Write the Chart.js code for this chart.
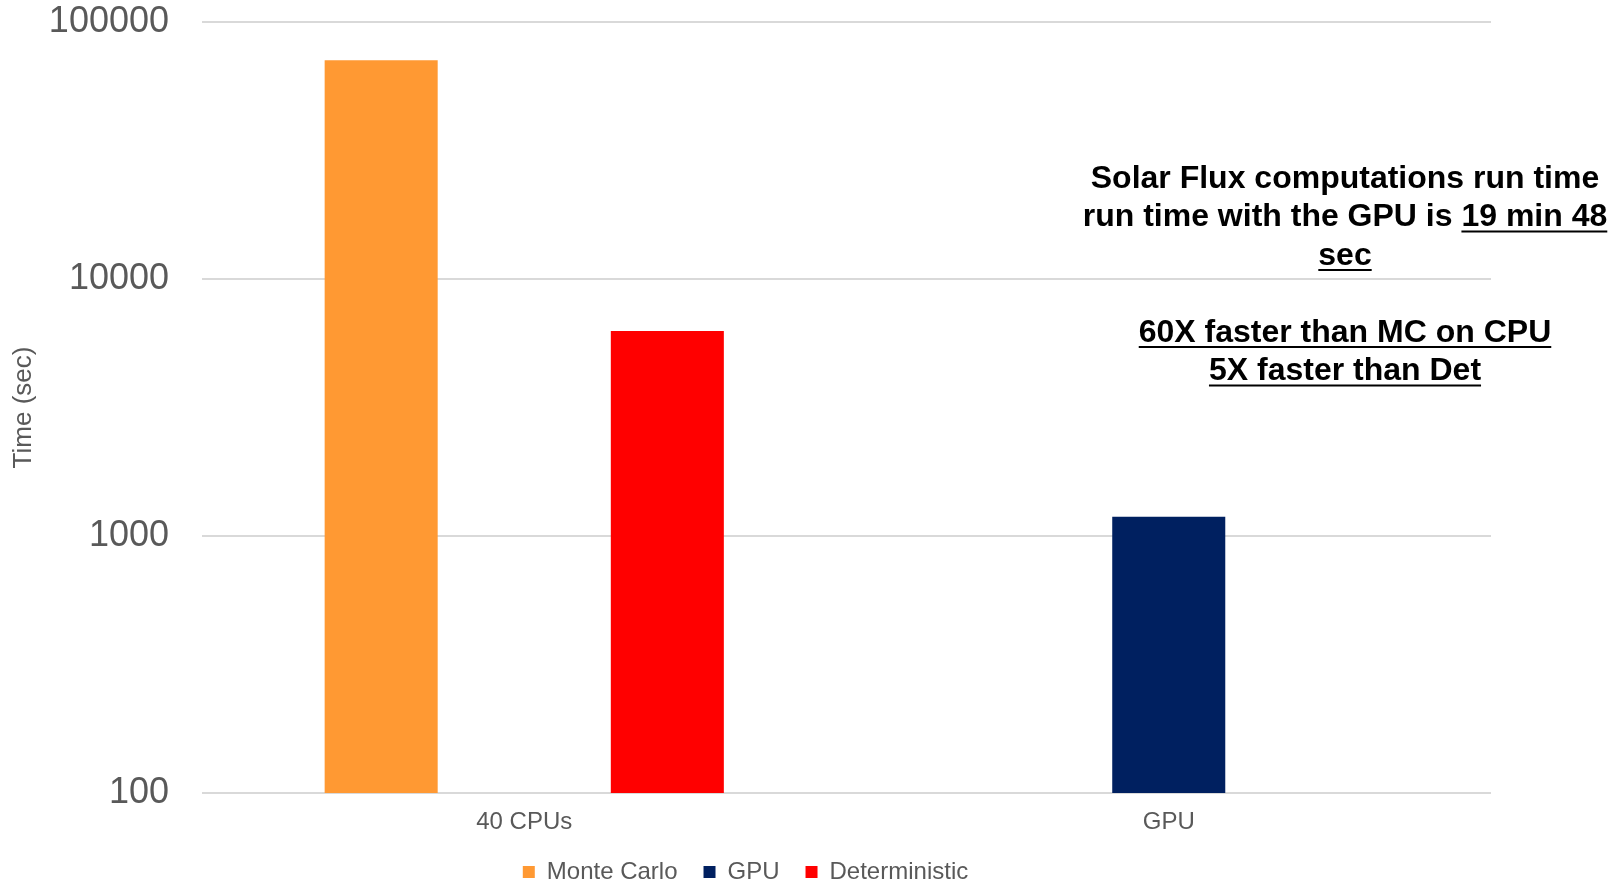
<!DOCTYPE html>
<html>
<head>
<meta charset="utf-8">
<script src="https://cdn.jsdelivr.net/npm/chart.js@4"></script>
<style>
  html, body { margin: 0; padding: 0; background: #fff; }
  #wrap { width: 1624px; height: 884px; position: relative; }
</style>
</head>
<body>
<div id="wrap"><canvas id="chart"></canvas></div>
<script>
// ── Data ─────────────────────────────────────────────────────
const categories = ["40 CPUs", "GPU"];
const seriesNames = ["Monte Carlo", "GPU", "Deterministic"];
const seriesColors = ["#ff9933", "#002060", "#ff0000"];
const monteCarlo = [71000, null];
const gpu = [null, 1188];
const deterministic = [6280, null];
const yTicks = [100, 1000, 10000, 100000];

// annotation lines: each is a list of [text, underlined]
const noteLines = [
  [["Solar Flux computations run time", false]],
  [["run time with the GPU is ", false], ["19 min 48", true]],
  [["sec", true]],
  [],
  [["60X faster than MC on CPU", true]],
  [["5X faster than Det", true]],
];

const AXIS_GREY = "#595959";
const GRID_GREY = "#d9d9d9";
const FONT = "'Liberation Sans', Arial, sans-serif";

// ── Annotation plugin ────────────────────────────────────────
const notePlugin = {
  id: "note",
  afterDraw(chart) {
    const ctx = chart.ctx;
    const cx = 1345;
    let y = 179;
    const lh = 38.5;
    ctx.save();
    ctx.font = "bold 32px " + FONT;
    ctx.fillStyle = "#000";
    ctx.strokeStyle = "#000";
    ctx.lineWidth = 2;
    ctx.textBaseline = "middle";
    ctx.textAlign = "left";
    noteLines.forEach(line => {
      const total = line.reduce((s, [t]) => s + ctx.measureText(t).width, 0);
      let x = cx - total / 2;
      line.forEach(([t, u]) => {
        const w = ctx.measureText(t).width;
        ctx.fillText(t, x, y);
        if (u) {
          ctx.beginPath();
          ctx.moveTo(x, y + 14);
          ctx.lineTo(x + w, y + 14);
          ctx.stroke();
        }
        x += w;
      });
      y += lh;
    });
    ctx.restore();
  },
};

// ── Chart ────────────────────────────────────────────────────
const seriesData = [monteCarlo, gpu, deterministic];

new Chart(document.getElementById("chart"), {
  type: "bar",
  data: {
    labels: categories,
    datasets: seriesNames.map((name, i) => ({
      label: name,
      data: seriesData[i],
      backgroundColor: seriesColors[i],
      borderWidth: 0,
      categoryPercentage: 0.666,
      barPercentage: 0.79,
    })),
  },
  options: {
    responsive: true,
    maintainAspectRatio: false,
    animation: false,
    layout: { padding: { top: 22, right: 133, left: 0, bottom: -10 } },
    plugins: {
      legend: {
        position: "bottom",
        labels: {
          font: { family: FONT, size: 24 },
          color: AXIS_GREY,
          boxWidth: 12,
          boxHeight: 12,
          padding: 26,
        },
      },
      tooltip: { enabled: false },
    },
    scales: {
      x: {
        afterFit: axis => { axis.height = 41; },
        grid: { display: false },
        border: { display: false },
        ticks: {
          font: { family: FONT, size: 24 },
          color: AXIS_GREY,
          padding: 7,
        },
      },
      y: {
        type: "logarithmic",
        min: 100,
        max: 100000,
        afterBuildTicks: axis => { axis.ticks = yTicks.map(v => ({ value: v })); },
        afterFit: axis => {
          axis.width = 202;
          axis.paddingTop = 0;
          axis.paddingBottom = 0;
        },
        grid: { color: GRID_GREY, lineWidth: 2, drawTicks: false },
        border: { display: false },
        ticks: {
          font: { family: FONT, size: 36 },
          color: AXIS_GREY,
          padding: 33,
          callback: v => String(v),
        },
        title: {
          display: true,
          text: "Time (sec)",
          font: { family: FONT, size: 26 },
          color: AXIS_GREY,
          padding: { top: 8, bottom: 0 },
        },
      },
    },
  },
  plugins: [notePlugin],
});
</script>
</body>
</html>
